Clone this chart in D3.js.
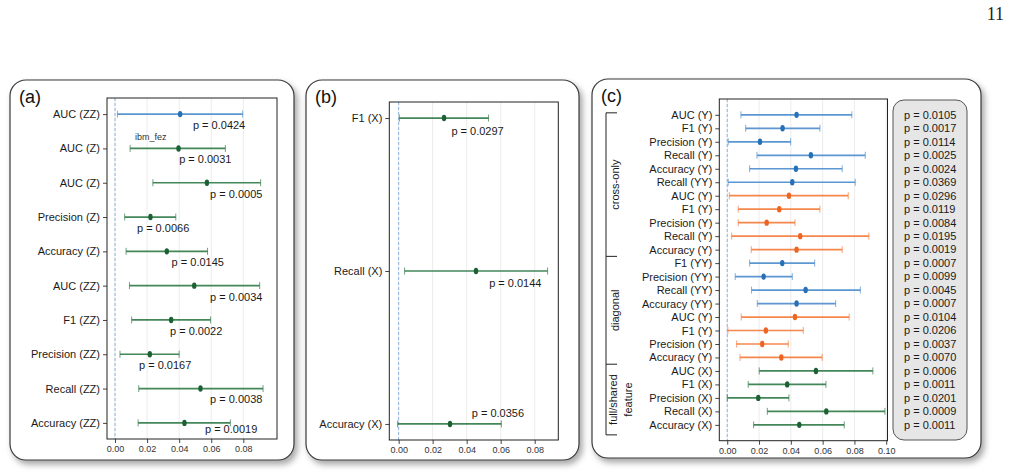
<!DOCTYPE html>
<html>
<head>
<meta charset="utf-8">
<script src="https://cdn.jsdelivr.net/npm/d3@7"></script>
<style>
  body { margin: 0; background: #fff; }
  svg { font-family: "Liberation Sans", Arial, sans-serif; }
</style>
</head>
<body>
<svg id="chart" width="1010" height="475"></svg>
<script>
// panel (a)
const aLabels = ["AUC (ZZ)", "AUC (Z)", "AUC (Z)", "Precision (Z)", "Accuracy (Z)", "AUC (ZZ)", "F1 (ZZ)", "Precision (ZZ)", "Recall (ZZ)", "Accuracy (ZZ)"]
const aLo   = [0.0015, 0.0094, 0.0236, 0.0060, 0.0069, 0.0090, 0.0104, 0.0031, 0.0148, 0.0144]
const aMean = [0.0406, 0.0396, 0.0573, 0.0221, 0.0323, 0.0494, 0.0350, 0.0217, 0.0533, 0.0433]
const aHi   = [0.0796, 0.0688, 0.0908, 0.0379, 0.0577, 0.0902, 0.0596, 0.0400, 0.0923, 0.0719]
const aP    = ["0.0424", "0.0031", "0.0005", "0.0066", "0.0145", "0.0034", "0.0022", "0.0167", "0.0038", "0.0019"]
const aPAt  = [0.0649, 0.0563, 0.0756, 0.0300, 0.0516, 0.0756, 0.0506, 0.0313, 0.0756, 0.0724]
const aPSide = [1, 1, 1, 1, 1, 1, 1, 1, 1, 0.55]
const aKind = ["Y", "X", "X", "X", "X", "X", "X", "X", "X", "X"]

// panel (b)
const bLabels = ["F1 (X)", "Recall (X)", "Accuracy (X)"]
const bLo   = [0.0004, 0.0035, -0.0006]
const bMean = [0.0267, 0.0455, 0.0302]
const bHi   = [0.0529, 0.0876, 0.0604]
const bP    = ["0.0297", "0.0144", "0.0356"]
const bPAt  = [0.0464, 0.0686, 0.0584]
const bPSide = [1.15, 1.1, -1]   // positive = label under the bar, negative = above
const bKind = ["X", "X", "X"]

// panel (c)
const cLabels = ["AUC (Y)", "F1 (Y)", "Precision (Y)", "Recall (Y)", "Accuracy (Y)", "Recall (YY)",
  "AUC (Y)", "F1 (Y)", "Precision (Y)", "Recall (Y)", "Accuracy (Y)",
  "F1 (YY)", "Precision (YY)", "Recall (YY)", "Accuracy (YY)", "AUC (Y)", "F1 (Y)", "Precision (Y)", "Accuracy (Y)",
  "AUC (X)", "F1 (X)", "Precision (X)", "Recall (X)", "Accuracy (X)"]
const cLo   = [0.0086, 0.0116, 0.0006, 0.0187, 0.0141, 0.0006, 0.0013, 0.0069, 0.0069, 0.0028, 0.0151,
  0.0141, 0.0050, 0.0153, 0.0189, 0.0088, 0.0004, 0.0059, 0.0080, 0.0201, 0.0132, 0.0000, 0.0252, 0.0166]
const cMean = [0.0436, 0.0348, 0.0206, 0.0526, 0.0432, 0.0409, 0.0388, 0.0327, 0.0248, 0.0459, 0.0436,
  0.0346, 0.0229, 0.0493, 0.0436, 0.0426, 0.0243, 0.0220, 0.0340, 0.0558, 0.0377, 0.0195, 0.0623, 0.0453]
const cHi   = [0.0784, 0.0583, 0.0399, 0.0868, 0.0723, 0.0805, 0.0761, 0.0583, 0.0426, 0.0891, 0.0723,
  0.0550, 0.0409, 0.0837, 0.0682, 0.0767, 0.0478, 0.0384, 0.0597, 0.0916, 0.0621, 0.0388, 0.0992, 0.0736]
const cP    = ["0.0105", "0.0017", "0.0114", "0.0025", "0.0024", "0.0369", "0.0296", "0.0119", "0.0084", "0.0195", "0.0019",
  "0.0007", "0.0099", "0.0045", "0.0007", "0.0104", "0.0206", "0.0037", "0.0070", "0.0006", "0.0011", "0.0201", "0.0009", "0.0011"]
const cKind = ["Y", "Y", "Y", "Y", "Y", "Y", "O", "O", "O", "O", "O",
  "Y", "Y", "Y", "Y", "O", "O", "O", "O", "X", "X", "X", "X", "X"]
const cGroupNames = [["cross-only"], ["diagonal"], ["full/shared", "feature"]]
const cGroupSizes = [11, 8, 5]

const xTicks = [0, 0.02, 0.04, 0.06, 0.08]
const xTicksC = [0, 0.02, 0.04, 0.06, 0.08, 0.10]

const lineColor = { Y: '#4a8ccd', O: '#f47a3a', X: '#2f7a47' }
const dotColor  = { Y: '#2670b8', O: '#ee6422', X: '#1c6134' }

const svg = d3.select('#chart')

// soft shadow under the rounded panels
const defs = svg.append('defs')
defs.append('filter').attr('id', 'shadow')
  .attr('x', '-5%').attr('y', '-5%').attr('width', '115%').attr('height', '115%')
  .append('feDropShadow')
  .attr('dx', 3).attr('dy', 4).attr('stdDeviation', 3)
  .attr('flood-color', '#000').attr('flood-opacity', 0.35)

svg.append('text')
  .attr('x', 1004).attr('y', 20)
  .attr('text-anchor', 'end')
  .attr('font-family', '"Liberation Serif", "Times New Roman", serif')
  .attr('font-size', 18)
  .attr('fill', '#222')
  .text('11')

function drawPanel(p) {
  svg.append('rect')
    .attr('x', p.box[0]).attr('y', p.box[1])
    .attr('width', p.box[2]).attr('height', p.box[3])
    .attr('rx', 16).attr('ry', 16)
    .attr('fill', '#fff').attr('stroke', '#3a3a3a').attr('stroke-width', 1.2)
    .attr('filter', 'url(#shadow)')

  svg.append('text')
    .attr('x', p.box[0] + 9).attr('y', p.box[1] + 23)
    .attr('font-size', 18).attr('fill', '#111')
    .text(p.tag)

  const x = d3.scaleLinear().domain(p.xDomain).range([p.plot[0], p.plot[1]])
  const y = d3.scalePoint().domain(d3.range(p.labels.length))
    .range([p.plot[2], p.plot[3]]).padding(p.pad)

  const g = svg.append('g')

  // grid
  g.selectAll('.grid').data(p.ticks).join('line')
    .attr('x1', d => x(d)).attr('x2', d => x(d))
    .attr('y1', p.plot[2]).attr('y2', p.plot[3])
    .attr('stroke', '#ececec').attr('stroke-width', 1)

  // zero reference
  g.append('line')
    .attr('x1', x(0)).attr('x2', x(0))
    .attr('y1', p.plot[2]).attr('y2', p.plot[3])
    .attr('stroke', '#8db4e2').attr('stroke-width', 1)
    .attr('stroke-dasharray', '3,2')

  const xAxis = svg.append('g')
    .attr('transform', `translate(0,${p.plot[3]})`)
    .call(d3.axisBottom(x).tickValues(p.ticks).tickFormat(d3.format('.2f')).tickSize(4).tickPadding(3))
  xAxis.select('.domain').remove()
  xAxis.selectAll('line').attr('stroke', '#444')
  xAxis.selectAll('text').attr('font-size', 9).attr('fill', '#333')
    .attr('font-family', '"Liberation Sans", Arial, sans-serif')

  const yAxis = svg.append('g')
    .attr('transform', `translate(${p.plot[0]},0)`)
    .call(d3.axisLeft(y).tickFormat(i => p.labels[i]).tickSize(4).tickPadding(3))
  yAxis.select('.domain').remove()
  yAxis.selectAll('line').attr('stroke', '#444')
  yAxis.selectAll('text').attr('font-size', 11).attr('fill', '#1a1a1a')
    .attr('font-family', '"Liberation Sans", Arial, sans-serif')

  const rows = g.selectAll('.row').data(d3.range(p.labels.length)).join('g')

  rows.append('line')
    .attr('x1', i => x(p.lo[i])).attr('x2', i => x(p.hi[i]))
    .attr('y1', i => y(i)).attr('y2', i => y(i))
    .attr('stroke', i => lineColor[p.kind[i]]).attr('stroke-width', 1.7)
    .attr('stroke-opacity', 0.9)
  rows.selectAll('.cap')
    .data(i => [[i, p.lo[i]], [i, p.hi[i]]])
    .join('line')
    .attr('x1', d => x(d[1])).attr('x2', d => x(d[1]))
    .attr('y1', d => y(d[0]) - 3.5).attr('y2', d => y(d[0]) + 3.5)
    .attr('stroke', d => lineColor[p.kind[d[0]]]).attr('stroke-width', 1)
    .attr('stroke-opacity', 0.7)
  rows.append('ellipse')
    .attr('cx', i => x(p.mean[i])).attr('cy', i => y(i))
    .attr('rx', 2.2).attr('ry', 3.2)
    .attr('fill', i => dotColor[p.kind[i]])

  if (p.pAt) {
    rows.append('text')
      .attr('x', i => x(p.pAt[i]))
      .attr('y', i => y(i) + 11 * (p.side ? p.side[i] : 1))
      .attr('dy', '0.35em')
      .attr('text-anchor', 'middle')
      .attr('font-size', 11).attr('fill', '#1a1a1a')
      .text(i => `p = ${p.p[i]}`)
  }

  svg.append('rect')
    .attr('x', p.plot[0]).attr('y', p.plot[2])
    .attr('width', p.plot[1] - p.plot[0]).attr('height', p.plot[3] - p.plot[2])
    .attr('fill', 'none').attr('stroke', '#222').attr('stroke-width', 1)

  return { x, y }
}

const pa = drawPanel({
  tag: '(a)', box: [10, 80, 284, 380], plot: [107, 277, 98, 439],
  xDomain: [-0.005, 0.101], pad: 0.47, ticks: xTicks,
  labels: aLabels, lo: aLo, mean: aMean, hi: aHi, p: aP, pAt: aPAt, side: aPSide, kind: aKind
})

svg.append('text')
  .attr('x', pa.x(0.0125)).attr('y', pa.y(1) - 8)
  .attr('font-size', 9).attr('fill', '#333')
  .text('ibm_fez')

drawPanel({
  tag: '(b)', box: [306, 80, 273, 380], plot: [389.3, 558.3, 102, 440],
  xDomain: [-0.0055, 0.0939], pad: 0.105, ticks: xTicks,
  labels: bLabels, lo: bLo, mean: bMean, hi: bHi, p: bP, pAt: bPAt, side: bPSide, kind: bKind
})

const pc = drawPanel({
  tag: '(c)', box: [592, 79, 389, 379], plot: [719.3, 887.5, 99, 440.7],
  xDomain: [-0.005, 0.1008], pad: 1.175, ticks: xTicksC,
  labels: cLabels, lo: cLo, mean: cMean, hi: cHi, kind: cKind
})

// p-value box of panel (c)
svg.append('rect')
  .attr('x', 893).attr('y', 100).attr('width', 74).attr('height', 340)
  .attr('rx', 11).attr('ry', 11)
  .attr('fill', '#e6e6e6').attr('stroke', '#555').attr('stroke-width', 1)
svg.append('g').selectAll('text').data(cP).join('text')
  .attr('x', 904).attr('y', (d, i) => pc.y(i))
  .attr('dy', '0.35em')
  .attr('font-size', 11).attr('fill', '#1a1a1a')
  .text(d => `p = ${d}`)

// group brackets of panel (c)
const step = pc.y.step()
let start = 0
const bracket = svg.append('g')
cGroupSizes.forEach((n, k) => {
  const end = start + n - 1
  const top = k === 0 ? pc.y(start) - 2 : pc.y(start) - step / 2
  const bot = k === cGroupSizes.length - 1 ? pc.y(end) + 10 : pc.y(end) + step / 2
  bracket.append('line').attr('x1', 606).attr('x2', 606).attr('y1', top).attr('y2', bot)
    .attr('stroke', '#222').attr('stroke-width', 1)
  bracket.append('line').attr('x1', 606).attr('x2', 617).attr('y1', top).attr('y2', top)
    .attr('stroke', '#222').attr('stroke-width', 1)
  if (k === cGroupSizes.length - 1) {
    bracket.append('line').attr('x1', 606).attr('x2', 617).attr('y1', bot).attr('y2', bot)
      .attr('stroke', '#222').attr('stroke-width', 1)
  }
  const mid = (top + bot) / 2
  const names = cGroupNames[k]
  names.forEach((nm, j) => {
    const cx = 615 + (j - (names.length - 1) / 2) * 14.5 + (names.length > 1 ? 5.5 : 0)
    bracket.append('text')
      .attr('transform', `translate(${cx},${mid}) rotate(-90)`)
      .attr('text-anchor', 'middle').attr('dy', '0.35em')
      .attr('font-size', 11).attr('fill', '#1a1a1a')
      .text(nm)
  })
  start += n
})
</script>
</body>
</html>
